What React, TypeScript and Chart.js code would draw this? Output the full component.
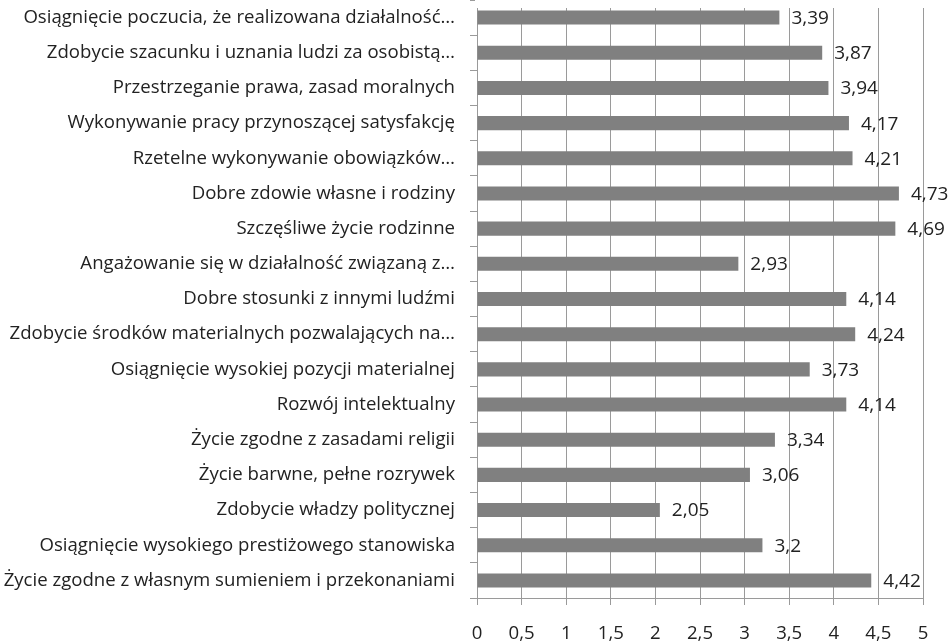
import React, { useEffect, useRef } from "react";
import { Chart, registerables } from "chart.js";

Chart.register(...registerables);

const categories: string[] = [
  "Osiągnięcie poczucia, że realizowana działalność…",
  "Zdobycie szacunku i uznania ludzi za osobistą…",
  "Przestrzeganie prawa, zasad moralnych",
  "Wykonywanie pracy przynoszącej satysfakcję",
  "Rzetelne wykonywanie obowiązków…",
  "Dobre zdowie własne i rodziny",
  "Szczęśliwe życie rodzinne",
  "Angażowanie się w działalność związaną z…",
  "Dobre stosunki z innymi ludźmi",
  "Zdobycie środków materialnych pozwalających na…",
  "Osiągnięcie wysokiej pozycji materialnej",
  "Rozwój intelektualny",
  "Życie zgodne z zasadami religii",
  "Życie barwne, pełne rozrywek",
  "Zdobycie władzy politycznej",
  "Osiągnięcie wysokiego prestiżowego stanowiska",
  "Życie zgodne z własnym sumieniem i przekonaniami",
];

const values: number[] = [
  3.39, 3.87, 3.94, 4.17, 4.21, 4.73, 4.69, 2.93, 4.14, 4.24, 3.73, 4.14, 3.34,
  3.06, 2.05, 3.2, 4.42,
];

const xMin = 0;
const xMax = 5;
const xStep = 0.5;

const fmt = (v: number) => String(v).replace(".", ",");

const FONT = "'Open Sans', sans-serif";
const GRID = "#9a9a9a";

const valueLabels = {
  id: "valueLabels",
  beforeDatasetsDraw(chart: any) {
    const { ctx, chartArea } = chart;
    ctx.save();
    ctx.fillStyle = "#ffffff";
    ctx.fillRect(chartArea.left - 2, 0, chartArea.right - chartArea.left + 6, chartArea.top + 8);
    ctx.restore();
  },
  afterDatasetsDraw(chart: any) {
    const ctx = chart.ctx;
    const meta = chart.getDatasetMeta(0);
    ctx.save();
    ctx.font = `19px ${FONT}`;
    ctx.fillStyle = "#222222";
    ctx.textAlign = "left";
    ctx.textBaseline = "middle";
    meta.data.forEach((bar: any, i: number) => {
      ctx.fillText(fmt(values[i]), bar.x + 12, bar.y + 1);
    });
    ctx.restore();
  },
};

export default function App() {
  const ref = useRef<HTMLCanvasElement | null>(null);
  useEffect(() => {
    if (!ref.current) return;
    const chart = new Chart(ref.current, {
      type: "bar",
      data: {
        labels: categories,
        datasets: [
          {
            data: values,
            backgroundColor: "#808080",
            borderWidth: 0,
            barPercentage: 0.4,
            categoryPercentage: 1,
          },
        ],
      },
      options: {
        indexAxis: "y",
        animation: false,
        responsive: false,
        layout: { padding: { left: 0, right: 25, top: 0, bottom: 0 } },
        plugins: { legend: { display: false }, tooltip: { enabled: false } },
        scales: {
          x: {
            min: xMin,
            max: xMax,
            ticks: {
              stepSize: xStep,
              color: "#222222",
              font: { family: FONT, size: 18.6 },
              padding: 18,
              callback: (v: any) => fmt(Number(v)),
            },
            grid: { color: GRID, tickLength: 7, drawTicks: true },
            border: { display: true, color: GRID },
            afterFit: (s: any) => {
              s.height = 45;
              s.paddingLeft = 0;
              s.paddingRight = 0;
            },
          },
          y: {
            ticks: {
              color: "#222222",
              font: { family: FONT, size: 18.6 },
              padding: 15,
              autoSkip: false,
            },
            grid: {
              drawOnChartArea: false,
              drawTicks: true,
              tickLength: 7,
              color: GRID,
              offset: true,
            },
            border: { display: true, color: GRID },
            afterFit: (s: any) => {
              s.width = 477;
              s.paddingTop = 0;
              s.paddingBottom = 0;
            },
          },
        },
      },
      plugins: [valueLabels],
    });
    return () => chart.destroy();
  }, []);
  return (
    <div style={{ position: "absolute", left: 0, top: 0, width: 948, height: 643, background: "#fff" }}>
      <canvas ref={ref} width={948} height={643} />
    </div>
  );
}
